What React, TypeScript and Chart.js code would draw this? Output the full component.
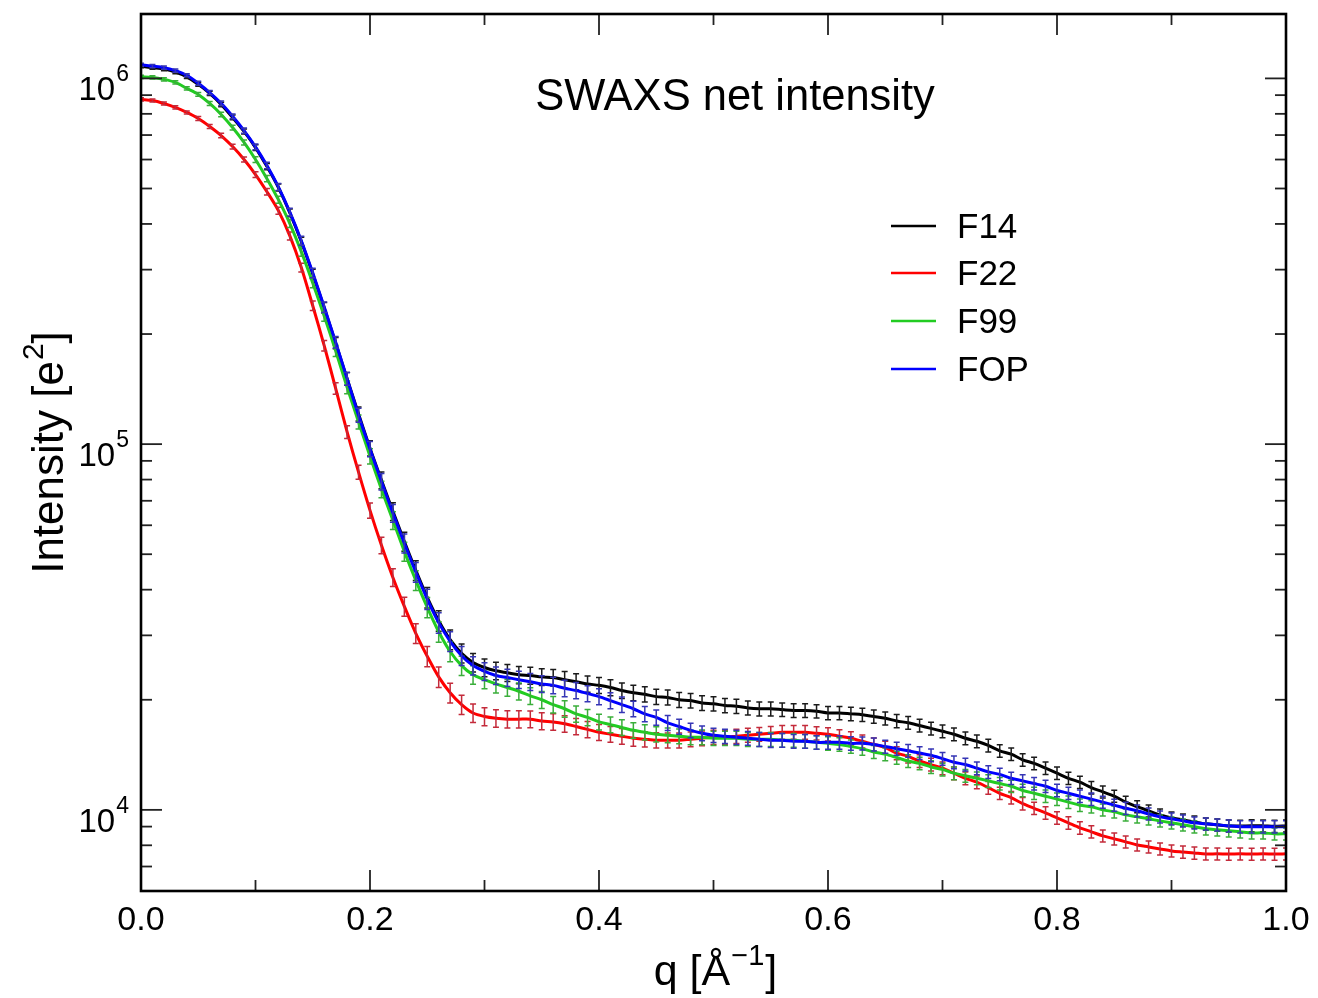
import React, { useEffect, useRef } from "react";
import { Chart, registerables } from "chart.js";

Chart.register(...registerables);

const Q = [
  0, 0.01, 0.02, 0.03, 0.04, 0.05, 0.06, 0.07, 0.08, 0.09,
  0.1, 0.11, 0.12, 0.13, 0.14, 0.15, 0.16, 0.17, 0.18, 0.19,
  0.2, 0.21, 0.22, 0.23, 0.24, 0.25, 0.26, 0.27, 0.28, 0.29,
  0.3, 0.31, 0.32, 0.33, 0.34, 0.35, 0.36, 0.37, 0.38, 0.39,
  0.4, 0.41, 0.42, 0.43, 0.44, 0.45, 0.46, 0.47, 0.48, 0.49,
  0.5, 0.51, 0.52, 0.53, 0.54, 0.55, 0.56, 0.57, 0.58, 0.59,
  0.6, 0.61, 0.62, 0.63, 0.64, 0.65, 0.66, 0.67, 0.68, 0.69,
  0.7, 0.71, 0.72, 0.73, 0.74, 0.75, 0.76, 0.77, 0.78, 0.79,
  0.8, 0.81, 0.82, 0.83, 0.84, 0.85, 0.86, 0.87, 0.88, 0.89,
  0.9, 0.91, 0.92, 0.93, 0.94, 0.95, 0.96, 0.97, 0.98, 0.99, 1.0,
];

const F14 = [
  1.08e6, 1.07e6, 1.06e6, 1.04e6, 1.01e6, 9.63e5, 9.10e5, 8.49e5, 7.82e5, 7.16e5,
  6.47e5, 5.74e5, 5.03e5, 4.29e5, 3.58e5, 2.92e5, 2.36e5, 1.89e5, 1.51e5, 1.21e5,
  9.75e4, 7.97e4, 6.55e4, 5.42e4, 4.52e4, 3.81e4, 3.29e4, 2.92e4, 2.68e4, 2.53e4,
  2.45e4, 2.40e4, 2.37e4, 2.34e4, 2.33e4, 2.31e4, 2.30e4, 2.27e4, 2.24e4, 2.21e4,
  2.19e4, 2.16e4, 2.12e4, 2.09e4, 2.07e4, 2.04e4, 2.03e4, 2.00e4, 1.99e4, 1.96e4,
  1.95e4, 1.93e4, 1.92e4, 1.90e4, 1.89e4, 1.89e4, 1.88e4, 1.87e4, 1.87e4, 1.86e4,
  1.84e4, 1.84e4, 1.83e4, 1.82e4, 1.80e4, 1.78e4, 1.75e4, 1.73e4, 1.70e4, 1.67e4,
  1.64e4, 1.61e4, 1.57e4, 1.54e4, 1.50e4, 1.45e4, 1.42e4, 1.37e4, 1.34e4, 1.30e4,
  1.26e4, 1.22e4, 1.19e4, 1.15e4, 1.12e4, 1.09e4, 1.05e4, 1.02e4, 9940, 9690,
  9510, 9390, 9270, 9160, 9100, 9040, 9030, 9050, 9040, 9020, 9040,
];

const F22 = [
  8.76e5, 8.70e5, 8.54e5, 8.33e5, 8.07e5, 7.77e5, 7.39e5, 6.98e5, 6.51e5, 6.00e5,
  5.46e5, 4.90e5, 4.35e5, 3.71e5, 3.04e5, 2.39e5, 1.86e5, 1.42e5, 1.08e5, 8.38e4,
  6.59e4, 5.29e4, 4.32e4, 3.60e4, 3.04e4, 2.63e4, 2.31e4, 2.09e4, 1.94e4, 1.84e4,
  1.80e4, 1.78e4, 1.77e4, 1.77e4, 1.77e4, 1.75e4, 1.74e4, 1.72e4, 1.69e4, 1.66e4,
  1.63e4, 1.61e4, 1.59e4, 1.57e4, 1.56e4, 1.55e4, 1.55e4, 1.55e4, 1.56e4, 1.57e4,
  1.58e4, 1.58e4, 1.59e4, 1.60e4, 1.61e4, 1.62e4, 1.63e4, 1.63e4, 1.63e4, 1.62e4,
  1.61e4, 1.59e4, 1.57e4, 1.54e4, 1.51e4, 1.48e4, 1.43e4, 1.40e4, 1.36e4, 1.33e4,
  1.30e4, 1.26e4, 1.22e4, 1.19e4, 1.15e4, 1.11e4, 1.08e4, 1.04e4, 1.01e4, 9810,
  9510, 9215, 8930, 8710, 8490, 8333, 8177, 8019, 7918, 7819,
  7722, 7669, 7622, 7576, 7580, 7570, 7580, 7570, 7580, 7570, 7580,
];

const F99 = [
  1.01e6, 1.006e6, 9.94e5, 9.75e5, 9.39e5, 9.04e5, 8.54e5, 7.97e5, 7.34e5, 6.68e5,
  6.00e5, 5.32e5, 4.66e5, 4.01e5, 3.36e5, 2.76e5, 2.24e5, 1.80e5, 1.43e5, 1.15e5,
  9.27e4, 7.53e4, 6.19e4, 5.09e4, 4.24e4, 3.58e4, 3.07e4, 2.71e4, 2.48e4, 2.34e4,
  2.27e4, 2.21e4, 2.16e4, 2.11e4, 2.05e4, 2.00e4, 1.94e4, 1.89e4, 1.83e4, 1.79e4,
  1.74e4, 1.71e4, 1.68e4, 1.65e4, 1.63e4, 1.61e4, 1.60e4, 1.59e4, 1.58e4, 1.58e4,
  1.57e4, 1.57e4, 1.57e4, 1.56e4, 1.56e4, 1.56e4, 1.55e4, 1.55e4, 1.54e4, 1.53e4,
  1.52e4, 1.51e4, 1.49e4, 1.47e4, 1.44e4, 1.42e4, 1.39e4, 1.36e4, 1.34e4, 1.31e4,
  1.29e4, 1.26e4, 1.24e4, 1.22e4, 1.20e4, 1.18e4, 1.16e4, 1.13e4, 1.11e4, 1.09e4,
  1.07e4, 1.05e4, 1.03e4, 1.02e4, 1.00e4, 9875, 9690, 9570, 9450, 9330,
  9215, 9100, 8990, 8873, 8818, 8764, 8710, 8651, 8650, 8598, 8600,
];

const FOP = [
  1.09e6, 1.08e6, 1.07e6, 1.05e6, 1.02e6, 9.70e5, 9.15e5, 8.55e5, 7.88e5, 7.20e5,
  6.50e5, 5.78e5, 5.05e5, 4.31e5, 3.60e5, 2.94e5, 2.37e5, 1.90e5, 1.51e5, 1.20e5,
  9.70e4, 7.90e4, 6.48e4, 5.36e4, 4.47e4, 3.77e4, 3.25e4, 2.89e4, 2.64e4, 2.48e4,
  2.39e4, 2.33e4, 2.30e4, 2.27e4, 2.24e4, 2.21e4, 2.19e4, 2.15e4, 2.12e4, 2.08e4,
  2.04e4, 1.99e4, 1.94e4, 1.89e4, 1.83e4, 1.79e4, 1.73e4, 1.69e4, 1.65e4, 1.62e4,
  1.60e4, 1.59e4, 1.58e4, 1.57e4, 1.56e4, 1.55e4, 1.55e4, 1.54e4, 1.54e4, 1.53e4,
  1.53e4, 1.53e4, 1.52e4, 1.52e4, 1.51e4, 1.49e4, 1.47e4, 1.45e4, 1.43e4, 1.41e4,
  1.38e4, 1.35e4, 1.33e4, 1.30e4, 1.27e4, 1.25e4, 1.22e4, 1.20e4, 1.18e4, 1.16e4,
  1.13e4, 1.11e4, 1.09e4, 1.07e4, 1.05e4, 1.03e4, 1.01e4, 9940, 9750, 9570,
  9450, 9330, 9215, 9160, 9100, 9040, 8990, 8990, 8990, 8990, 8990,
];

// relative error (percent) of each point, shared by the four series
const ERR_PCT = [
  1.0, 1.0, 1.0, 1.0, 1.0, 1.2, 1.3, 1.4, 1.5, 1.6,
  1.8, 2.0, 2.2, 2.5, 2.8, 3.0, 3.3, 3.6, 4.0, 4.4,
  4.8, 5.2, 5.6, 6.0, 6.2, 6.4, 6.4, 6.2, 6.0, 5.8,
  5.6, 5.5, 5.4, 5.4, 5.3, 5.3, 5.2, 5.2, 5.1, 5.1,
  5.0, 5.0, 4.9, 4.9, 4.8, 4.8, 4.7, 4.7, 4.6, 4.6,
  4.5, 4.5, 4.5, 4.4, 4.4, 4.4, 4.3, 4.3, 4.3, 4.2,
  4.2, 4.2, 4.2, 4.1, 4.1, 4.1, 4.1, 4.0, 4.0, 4.0,
  4.0, 4.0, 4.0, 4.0, 4.0, 3.9, 3.9, 3.9, 3.9, 3.9,
  3.9, 3.9, 3.9, 3.9, 3.8, 3.8, 3.8, 3.8, 3.8, 3.8,
  3.8, 3.8, 3.8, 3.8, 3.8, 3.8, 3.8, 3.8, 3.8, 3.8, 3.8,
];

const SERIES_LABELS = ["F14", "F22", "F99", "FOP"];
const SERIES_VALUES = [F14, F22, F99, FOP];
const SERIES_COLORS = ["#000000", "#ff0000", "#22cc22", "#0000ff"];
const ERR_COLORS = ["#1a1a1a", "#c42a3a", "#3aae3a", "#3535b5"];
const DRAW_ORDER = [4, 3, 2, 1];

const X_MAJOR = [0, 0.2, 0.4, 0.6, 0.8, 1.0];
const X_LABELS = ["0.0", "0.2", "0.4", "0.6", "0.8", "1.0"];
const X_MINOR = [0.1, 0.3, 0.5, 0.7, 0.9];
const Y_MAJOR = [1e4, 1e5, 1e6];
const Y_EXP = ["4", "5", "6"];
const Y_MINOR = [
  7000, 8000, 9000,
  2e4, 3e4, 4e4, 5e4, 6e4, 7e4, 8e4, 9e4,
  2e5, 3e5, 4e5, 5e5, 6e5, 7e5, 8e5, 9e5,
];

const TITLE = "SWAXS net intensity";
const FONT = '"Liberation Sans", Arial, Helvetica, sans-serif';

const errorBarPlugin = {
  id: "errorBars",
  afterDatasetDraw(chart: any, args: any) {
    const i = args.index;
    const vals = SERIES_VALUES[i];
    const { ctx, chartArea: a } = chart;
    const xs = chart.scales.x;
    const ys = chart.scales.y;
    ctx.save();
    ctx.beginPath();
    ctx.rect(a.left, a.top, a.width, a.height);
    ctx.clip();
    ctx.strokeStyle = ERR_COLORS[i];
    ctx.lineWidth = 1.5;
    ctx.beginPath();
    for (let k = 0; k < Q.length; k++) {
      const e = ERR_PCT[k] / 100;
      const px = xs.getPixelForValue(Q[k]);
      const y1 = ys.getPixelForValue(vals[k] * (1 + e));
      const y2 = ys.getPixelForValue(vals[k] * (1 - e));
      ctx.moveTo(px, y1);
      ctx.lineTo(px, y2);
      ctx.moveTo(px - 3, y1);
      ctx.lineTo(px + 3, y1);
      ctx.moveTo(px - 3, y2);
      ctx.lineTo(px + 3, y2);
    }
    ctx.stroke();
    ctx.restore();
  },
};

const decorPlugin = {
  id: "decor",
  afterDraw(chart: any) {
    const { ctx, chartArea: a } = chart;
    const xs = chart.scales.x;
    const ys = chart.scales.y;
    ctx.save();
    const seg = (x1: number, y1: number, x2: number, y2: number) => {
      ctx.beginPath();
      ctx.moveTo(x1, y1);
      ctx.lineTo(x2, y2);
      ctx.stroke();
    };
    ctx.strokeStyle = "#222";
    ctx.lineWidth = 1.8;
    X_MAJOR.forEach((v) => {
      const p = xs.getPixelForValue(v);
      seg(p, a.bottom, p, a.bottom - 21);
      seg(p, a.top, p, a.top + 21);
    });
    X_MINOR.forEach((v) => {
      const p = xs.getPixelForValue(v);
      seg(p, a.bottom, p, a.bottom - 11);
      seg(p, a.top, p, a.top + 11);
    });
    Y_MAJOR.forEach((v) => {
      const p = ys.getPixelForValue(v);
      seg(a.left, p, a.left + 21, p);
      seg(a.right, p, a.right - 21, p);
    });
    Y_MINOR.forEach((v) => {
      const p = ys.getPixelForValue(v);
      seg(a.left, p, a.left + 11, p);
      seg(a.right, p, a.right - 11, p);
    });
    ctx.strokeStyle = "#000";
    ctx.lineWidth = 2.6;
    ctx.strokeRect(a.left, a.top, a.width, a.height);

    ctx.fillStyle = "#000";
    ctx.textBaseline = "alphabetic";
    // x tick labels
    ctx.font = `34px ${FONT}`;
    ctx.textAlign = "center";
    X_MAJOR.forEach((v, i) => {
      ctx.fillText(X_LABELS[i], xs.getPixelForValue(v), a.bottom + 39);
    });
    // y tick labels (10^n)
    Y_MAJOR.forEach((v, i) => {
      const p = ys.getPixelForValue(v);
      ctx.font = `23px ${FONT}`;
      const ew = ctx.measureText(Y_EXP[i]).width;
      ctx.textAlign = "left";
      const right = a.left - 12;
      ctx.fillText(Y_EXP[i], right - ew, p + 3);
      ctx.font = `33px ${FONT}`;
      const bw = ctx.measureText("10").width;
      ctx.fillText("10", right - ew - 1 - bw, p + 22);
    });

    // title
    ctx.font = `43.5px ${FONT}`;
    ctx.textAlign = "center";
    ctx.fillText(TITLE, 735, 110);

    // x axis title: q [Å^-1]
    {
      const big = `43px ${FONT}`;
      const small = `29px ${FONT}`;
      ctx.textAlign = "left";
      ctx.font = big;
      const w1 = ctx.measureText("q [Å").width;
      const w3 = ctx.measureText("]").width;
      ctx.font = small;
      const w2 = ctx.measureText("\u22121").width;
      const total = w1 + w2 + 2 + w3;
      const cx = (a.left + a.right) / 2 + 2;
      const x0 = cx - total / 2;
      const base = 985;
      ctx.font = big;
      ctx.fillText("q [Å", x0, base);
      ctx.font = small;
      ctx.fillText("\u22121", x0 + w1 + 1, base - 20);
      ctx.font = big;
      ctx.fillText("]", x0 + w1 + w2 + 2, base);
    }

    // y axis title: Intensity [e^2]
    {
      ctx.save();
      ctx.translate(63, (a.top + a.bottom) / 2);
      ctx.rotate(-Math.PI / 2);
      const big = `44px ${FONT}`;
      const small = `30px ${FONT}`;
      ctx.textAlign = "left";
      ctx.font = big;
      const w1 = ctx.measureText("Intensity [e").width;
      const w3 = ctx.measureText("]").width;
      ctx.font = small;
      const w2 = ctx.measureText("2").width;
      const total = w1 + w2 + 1 + w3;
      const x0 = -total / 2;
      ctx.font = big;
      ctx.fillText("Intensity [e", x0, 0);
      ctx.font = small;
      ctx.fillText("2", x0 + w1 + 1, -20);
      ctx.font = big;
      ctx.fillText("]", x0 + w1 + w2 + 1, 0);
      ctx.restore();
    }

    // legend
    const rows = [226, 273, 321, 369];
    chart.data.datasets.forEach((ds: any, i: number) => {
      const y = rows[i];
      ctx.strokeStyle = ds.borderColor;
      ctx.lineWidth = 2.5;
      seg(891, y, 936, y);
      ctx.font = `35px ${FONT}`;
      ctx.textAlign = "left";
      ctx.textBaseline = "middle";
      ctx.fillStyle = "#000";
      ctx.fillText(ds.label, 957, y + 2);
    });
    ctx.restore();
  },
};

export default function App() {
  const ref = useRef<HTMLCanvasElement>(null);
  useEffect(() => {
    document.body.style.margin = "0";
    const canvas = ref.current!;
    const chart = new Chart(canvas, {
      type: "scatter",
      data: {
        datasets: SERIES_LABELS.map((label, i) => ({
          label,
          data: Q.map((q, k) => ({ x: q, y: SERIES_VALUES[i][k] })),
          borderColor: SERIES_COLORS[i],
          backgroundColor: SERIES_COLORS[i],
          borderWidth: 3,
          showLine: true,
          pointRadius: 0,
          pointHoverRadius: 0,
          tension: 0.3,
          fill: false,
          order: DRAW_ORDER[i],
        })),
      },
      options: {
        responsive: false,
        animation: false,
        devicePixelRatio: 1,
        layout: { padding: { left: 141, top: 14, right: 32, bottom: 107 } },
        plugins: {
          legend: { display: false },
          title: { display: false },
          tooltip: { enabled: false },
        },
        events: [],
        scales: {
          x: { type: "linear", min: 0, max: 1, display: false },
          y: { type: "logarithmic", min: 6000, max: 1.5e6, display: false },
        },
      },
      plugins: [errorBarPlugin, decorPlugin],
    } as any);
    return () => chart.destroy();
  }, []);
  return (
    <div style={{ width: 1318, height: 998, background: "#fff" }}>
      <canvas ref={ref} width={1318} height={998} style={{ display: "block" }} />
    </div>
  );
}
